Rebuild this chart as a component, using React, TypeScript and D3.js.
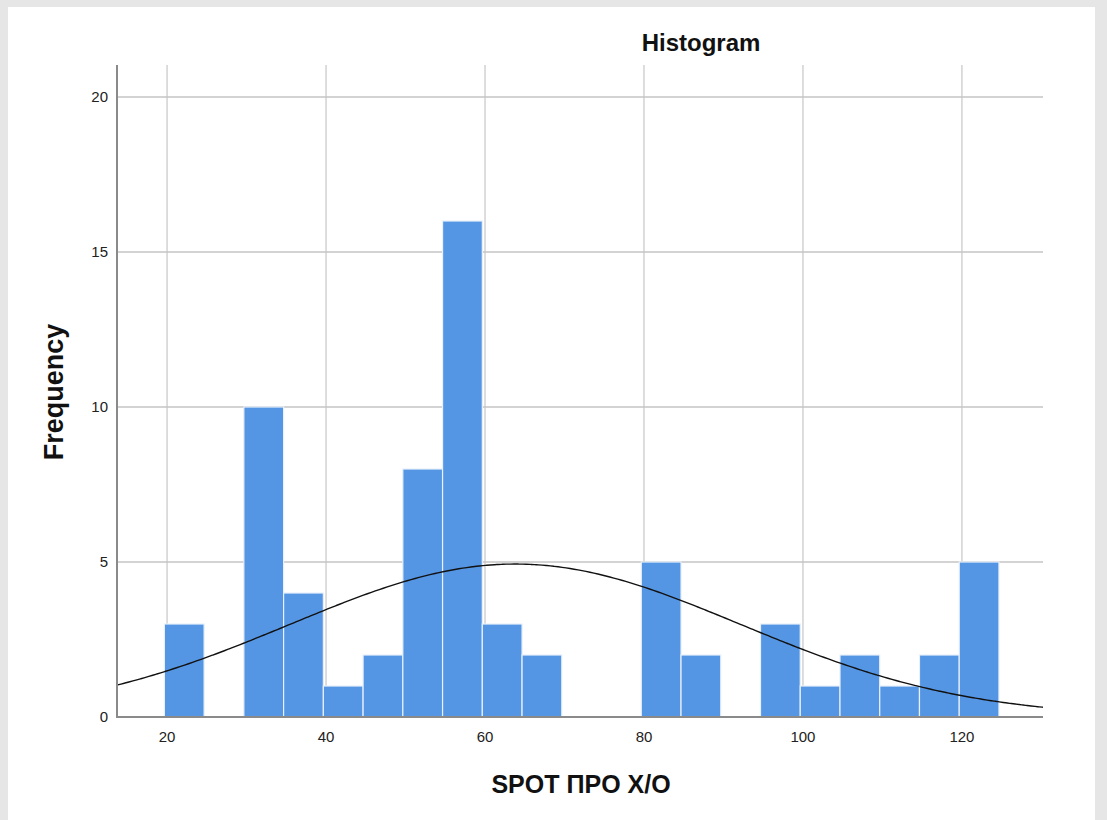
import { useEffect, useRef } from 'react';
import * as d3 from 'd3';

// 5-wide bins, starting edge and count
const binStarts = [20, 25, 30, 35, 40, 45, 50, 55, 60, 65, 70, 75, 80, 85, 90, 95, 100, 105, 110, 115, 120];
const binCounts = [3, 0, 10, 4, 1, 2, 8, 16, 3, 2, 0, 0, 5, 2, 0, 3, 1, 2, 1, 2, 5];
const binWidth = 5;
const binShift = -0.34; // SPSS bins sit slightly left of the round ticks

const xTicks = [20, 40, 60, 80, 100, 120];
const yTicks = [0, 5, 10, 15, 20];

// fitted normal curve
const curveMean = 63.8;
const curveSd = 28.3;

const W = 1107;
const H = 820;

export default function App() {
  const svgRef = useRef<SVGSVGElement | null>(null);

  useEffect(() => {
    if (!svgRef.current) return;
    const svg = d3.select(svgRef.current);
    svg.selectAll('*').remove();

    const left = 117;
    const right = 1043;
    const top = 65;
    const bottom = 717;

    const x = d3.scaleLinear().domain([13.7, 130.2]).range([left, right]);
    const y = d3.scaleLinear().domain([0, 20]).range([bottom, 97]);

    svg.append('rect').attr('width', W).attr('height', H).attr('fill', '#e6e6e6');
    svg.append('rect').attr('x', 8).attr('y', 7).attr('width', 1087).attr('height', H - 7).attr('fill', '#ffffff');

    const font = '"Liberation Sans", Arial, sans-serif';

    // grid
    svg.append('g')
      .selectAll('line')
      .data(xTicks)
      .join('line')
      .attr('x1', (d) => x(d))
      .attr('x2', (d) => x(d))
      .attr('y1', top)
      .attr('y2', bottom)
      .attr('stroke', '#d2d2d2')
      .attr('stroke-width', 1.5);

    svg.append('g')
      .selectAll('line')
      .data(yTicks.filter((d) => d > 0))
      .join('line')
      .attr('x1', left)
      .attr('x2', right)
      .attr('y1', (d) => y(d))
      .attr('y2', (d) => y(d))
      .attr('stroke', '#c4c4c4')
      .attr('stroke-width', 1.5);

    // bars
    const bins = binStarts
      .map((s, i) => ({ x0: s + binShift, x1: s + binShift + binWidth, n: binCounts[i] }))
      .filter((b) => b.n > 0);
    svg.append('g')
      .selectAll('rect')
      .data(bins)
      .join('rect')
      .attr('x', (d) => x(d.x0))
      .attr('width', (d) => x(d.x1) - x(d.x0))
      .attr('y', (d) => y(d.n))
      .attr('height', (d) => y(0) - y(d.n))
      .attr('fill', '#5596e4')
      .attr('stroke', '#e8f0fb')
      .attr('stroke-width', 1.2);

    // normal curve
    const total = d3.sum(binCounts);
    const scale = (total * binWidth) / (curveSd * Math.sqrt(2 * Math.PI));
    const pts = d3.range(13.7, 130.3, 0.5).map((v) => [v, scale * Math.exp(-((v - curveMean) ** 2) / (2 * curveSd * curveSd))] as [number, number]);
    svg.append('path')
      .datum(pts)
      .attr('d', d3.line<[number, number]>().x((d) => x(d[0])).y((d) => y(d[1])).curve(d3.curveBasis))
      .attr('fill', 'none')
      .attr('stroke', '#111')
      .attr('stroke-width', 1.4);

    // axes
    svg.append('line')
      .attr('x1', left).attr('x2', left).attr('y1', top).attr('y2', bottom + 1)
      .attr('stroke', '#8a8a8a').attr('stroke-width', 2);
    svg.append('line')
      .attr('x1', left).attr('x2', right).attr('y1', bottom).attr('y2', bottom)
      .attr('stroke', '#8a8a8a').attr('stroke-width', 2);

    svg.append('g')
      .selectAll('text')
      .data(yTicks)
      .join('text')
      .attr('x', left - 9)
      .attr('y', (d) => y(d) + 5)
      .attr('text-anchor', 'end')
      .attr('font-family', font)
      .attr('font-size', 15)
      .attr('fill', '#222')
      .text((d) => d);

    svg.append('g')
      .selectAll('text')
      .data(xTicks)
      .join('text')
      .attr('x', (d) => x(d))
      .attr('y', bottom + 25)
      .attr('text-anchor', 'middle')
      .attr('font-family', font)
      .attr('font-size', 15)
      .attr('fill', '#222')
      .text((d) => d);

    svg.append('text')
      .attr('x', 701)
      .attr('y', 51)
      .attr('text-anchor', 'middle')
      .attr('font-family', font)
      .attr('font-size', 24)
      .attr('font-weight', 'bold')
      .attr('fill', '#111')
      .text('Histogram');

    svg.append('text')
      .attr('x', 581)
      .attr('y', 793)
      .attr('text-anchor', 'middle')
      .attr('font-family', font)
      .attr('font-size', 25)
      .attr('font-weight', 'bold')
      .attr('fill', '#111')
      .text('SPOT ΠΡΟ Χ/Ο');

    svg.append('text')
      .attr('transform', `translate(63,392) rotate(-90)`)
      .attr('text-anchor', 'middle')
      .attr('font-family', font)
      .attr('font-size', 27)
      .attr('font-weight', 'bold')
      .attr('fill', '#111')
      .text('Frequency');
  }, []);

  return (
    <svg
      ref={svgRef}
      width={W}
      height={H}
      style={{ position: 'absolute', left: 0, top: 0, display: 'block' }}
    />
  );
}
